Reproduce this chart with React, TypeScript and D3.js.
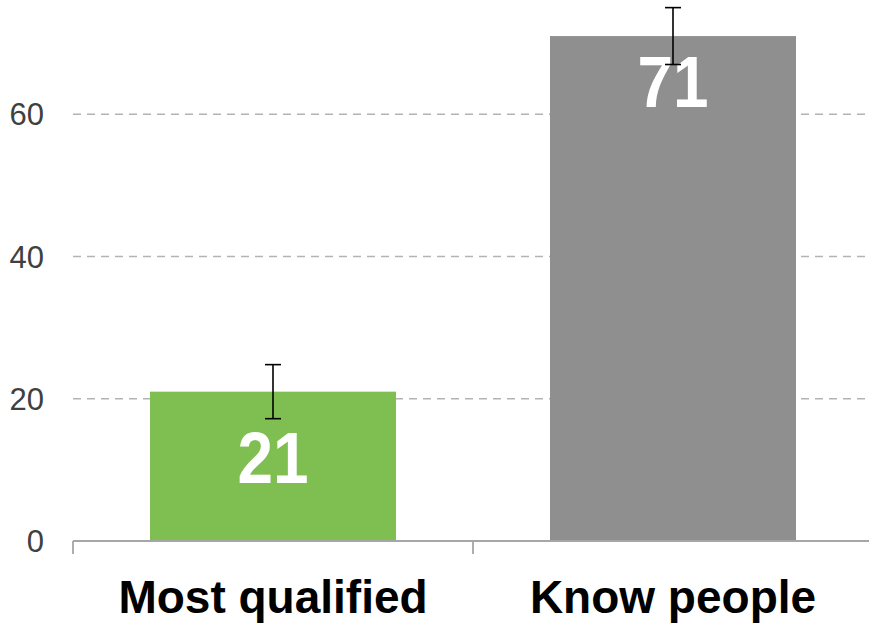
import React from 'react';
import * as d3 from 'd3';

const CATEGORIES = ['Most qualified', 'Know people'];
const VALUES = [21, 71];
const ERRORS = [3.8, 4.0];
const BAR_COLORS = ['#7fbe50', '#8f8f8f'];
const Y_TICKS = [0, 20, 40, 60];

const W = 869;
const H = 625;
const FONT = '"Liberation Sans", Arial, sans-serif';

export default function App() {
  const x = d3.scaleBand<string>()
    .domain(CATEGORIES)
    .range([73, 873])
    .paddingInner(0.385)
    .paddingOuter(0.1925);

  const y = d3.scaleLinear().domain([0, 60]).range([541, 114.3]);

  const bw = x.bandwidth();

  return (
    <svg
      width={W}
      height={H}
      style={{ position: 'absolute', left: 0, top: 0, background: '#fff' }}
      fontFamily={FONT}
    >
      {/* gridlines */}
      {Y_TICKS.filter(t => t > 0).map(t => (
        <line
          key={t}
          x1={73}
          x2={W}
          y1={y(t)}
          y2={y(t)}
          stroke="#b3b3b3"
          strokeWidth={1.5}
          strokeDasharray="8 6"
        />
      ))}

      {/* y labels */}
      {Y_TICKS.map(t => (
        <text
          key={t}
          x={44}
          y={y(t)}
          dy="0.36em"
          textAnchor="end"
          fontSize={31}
          fill="#404040"
        >
          {t}
        </text>
      ))}

      {/* bars */}
      {CATEGORIES.map((c, i) => {
        const x0 = x(c) ?? 0;
        return (
          <rect
            key={c}
            x={x0}
            y={y(VALUES[i])}
            width={bw}
            height={y(0) - y(VALUES[i])}
            fill={BAR_COLORS[i]}
          />
        );
      })}

      {/* value labels */}
      {CATEGORIES.map((c, i) => {
        const cx = (x(c) ?? 0) + bw / 2;
        const base = y(VALUES[i]) + (VALUES[i] < 40 ? 91 : 71);
        return (
          <text
            key={c}
            x={cx}
            y={base}
            textAnchor="middle"
            fontSize={72}
            fontWeight="bold"
            fill="#fff"
            textLength={71}
            lengthAdjust="spacingAndGlyphs"
          >
            {VALUES[i]}
          </text>
        );
      })}

      {/* error bars */}
      {CATEGORIES.map((c, i) => {
        const cx = (x(c) ?? 0) + bw / 2;
        const hi = y(VALUES[i] + ERRORS[i]);
        const lo = y(VALUES[i] - ERRORS[i]);
        return (
          <g key={c} stroke="#000" strokeWidth={1.6}>
            <line x1={cx} x2={cx} y1={hi} y2={lo} />
            <line x1={cx - 8} x2={cx + 8} y1={hi} y2={hi} />
            <line x1={cx - 8} x2={cx + 8} y1={lo} y2={lo} />
          </g>
        );
      })}

      {/* x axis */}
      <line x1={73} x2={W} y1={y(0)} y2={y(0)} stroke="#a6a6a6" strokeWidth={1.8} />
      {[73, 473, 873].map(tx => (
        <line key={tx} x1={tx} x2={tx} y1={y(0)} y2={y(0) + 13} stroke="#a6a6a6" strokeWidth={1.8} />
      ))}

      {/* category labels */}
      {CATEGORIES.map(c => (
        <text
          key={c}
          x={(x(c) ?? 0) + bw / 2}
          y={613}
          textAnchor="middle"
          fontSize={46}
          fontWeight="bold"
          fill="#000"
        >
          {c}
        </text>
      ))}
    </svg>
  );
}
